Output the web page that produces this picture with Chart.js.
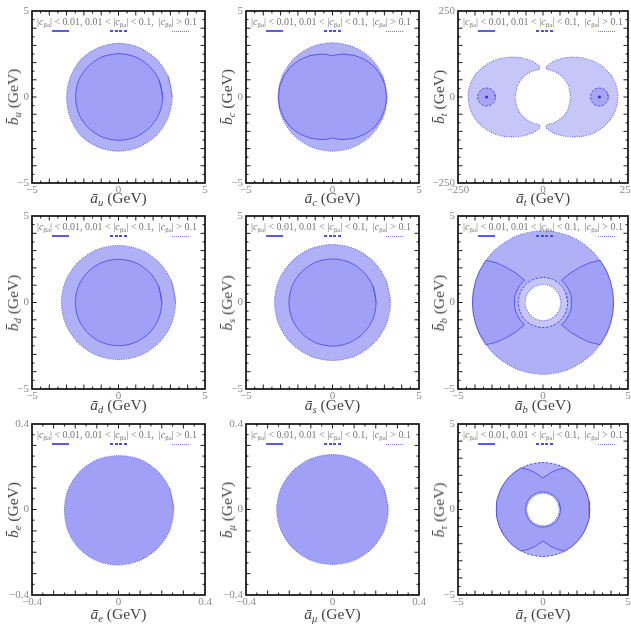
<!DOCTYPE html>
<html>
<head>
<meta charset="utf-8">
<script src="https://cdn.jsdelivr.net/npm/chart.js@4.4.1/dist/chart.umd.min.js"></script>
<style>
body { margin: 0; background: #fff; width: 631px; height: 624px; overflow: hidden; position: relative; font-family: 'Liberation Serif', serif; }
canvas { position: absolute; }
.xt, .yt { position: absolute; font-size: 15.5px; color: #444; white-space: nowrap; }
.xt { transform: translate(-50%, -50%); }
.yt { transform: translate(-50%, -50%) rotate(-90deg); }
sub { font-size: 0.68em; vertical-align: -0.3em; line-height: 0; }
.lg { position: absolute; font-size: 10px; color: #777; white-space: nowrap; line-height: 1; }
.smp { position: absolute; height: 2px; width: 17px; }
</style>
</head>
<body>
<script>
// axis ranges (GeV) and labelled ticks
var fermions = ["u", "c", "t", "d", "s", "b", "e", "μ", "τ"];
var axisLimit = [5, 5, 250, 5, 5, 5, 0.4, 0.4, 5];
var majorTick = [1, 1, 50, 1, 1, 1, 0.1, 0.1, 1];
var minorTick = [0.5, 0.5, 25, 0.5, 0.5, 0.5, 0.05, 0.05, 0.5];

// region outlines, [a, b] in GeV
var uOuter = [[3.1,0],[2.87,1.19],[2.2,2.19],[1.19,2.88],[0,3.12],[-1.18,2.86],[-2.17,2.18],[-2.78,1.16],[-3.0,0],[-2.8,-1.18],[-2.2,-2.22],[-1.2,-2.9],[0,-3.15],[1.2,-2.9],[2.22,-2.2],[2.87,-1.18],[3.1,0]];
var uInner = [[2.55,0],[2.35,0.97],[1.8,1.78],[0.98,2.33],[0.03,2.52],[-0.95,2.33],[-1.75,1.78],[-2.3,0.97],[-2.48,0],[-2.3,-0.97],[-1.75,-1.78],[-0.95,-2.33],[0.03,-2.52],[0.98,-2.33],[1.8,-1.78],[2.35,-0.97],[2.55,0]];

var cOuter = [[3.15,0],[2.91,1.21],[2.23,2.23],[1.21,2.91],[0,3.15],[-1.21,2.91],[-2.23,2.23],[-2.91,1.21],[-3.15,0],[-2.91,-1.21],[-2.23,-2.23],[-1.21,-2.91],[0,-3.15],[1.21,-2.91],[2.23,-2.23],[2.91,-1.21],[3.15,0]];
var cInner = [[3.12,0],[3.05,0.65],[2.8,1.25],[2.42,1.77],[1.9,2.16],[1.3,2.41],[0.65,2.5],[0.3,2.47],[0,2.4],[-0.3,2.47],[-0.65,2.5],[-1.3,2.41],[-1.9,2.16],[-2.42,1.77],[-2.8,1.25],[-3.05,0.65],[-3.12,0],[-3.05,-0.65],[-2.8,-1.25],[-2.42,-1.77],[-1.9,-2.15],[-1.3,-2.39],[-0.65,-2.48],[-0.3,-2.45],[0,-2.38],[0.3,-2.45],[0.65,-2.48],[1.3,-2.39],[1.9,-2.15],[2.42,-1.77],[2.8,-1.25],[3.05,-0.65],[3.12,0]];

var tLeft = [[-9,89],[-31,104],[-60,113],[-90,116],[-120,113],[-149,104],[-178,86],[-200,64],[-213,40],[-220,12],[-219,-15],[-212,-42],[-198,-66],[-176,-88],[-148,-105],[-118,-114],[-88,-116],[-58,-113],[-30,-104],[-9,-90],[-11,-81],[-35,-74],[-58,-58],[-74,-35],[-82,0],[-74,35],[-58,58],[-35,74],[-11,81],[-9,89]];
var tRight = [[9,88],[31,104],[60,113],[90,116],[120,113],[149,104],[178,86],[200,64],[213,40],[220,12],[219,-15],[212,-42],[198,-66],[176,-88],[149,-105],[118,-114],[88,-116],[58,-113],[30,-104],[9,-90],[11,-81],[35,-74],[58,-58],[74,-35],[81,0],[74,35],[58,58],[35,74],[11,81],[9,88]];
var tSpotL = [[-140,0],[-143.5,13],[-153,22.5],[-166,26],[-179,22.5],[-188.5,13],[-192,0],[-188.5,-13],[-179,-22.5],[-166,-26],[-153,-22.5],[-143.5,-13],[-140,0]];
var tSpotR = [[192,0],[188.5,13],[179,22.5],[166,26],[153,22.5],[143.5,13],[140,0],[143.5,-13],[153,-22.5],[166,-26],[179,-22.5],[188.5,-13],[192,0]];
var tCentres = [[-166,0],[166,0]];

var dOuter = [[3.3,0],[3.05,1.26],[2.33,2.33],[1.26,3.05],[0,3.3],[-1.26,3.05],[-2.33,2.33],[-3.05,1.26],[-3.3,0],[-3.05,-1.26],[-2.33,-2.33],[-1.26,-3.05],[0,-3.3],[1.26,-3.05],[2.33,-2.33],[3.05,-1.26],[3.3,0]];
var dInner = [[2.5,0],[2.31,0.96],[1.77,1.77],[0.96,2.31],[0,2.5],[-0.96,2.31],[-1.77,1.77],[-2.31,0.96],[-2.5,0],[-2.31,-0.96],[-1.77,-1.77],[-0.96,-2.31],[0,-2.5],[0.96,-2.31],[1.77,-1.77],[2.31,-0.96],[2.5,0]];

var sOuter = [[3.35,0],[3.1,1.28],[2.37,2.37],[1.28,3.1],[0,3.35],[-1.28,3.1],[-2.37,2.37],[-3.1,1.28],[-3.35,0],[-3.1,-1.28],[-2.37,-2.37],[-1.28,-3.1],[0,-3.35],[1.28,-3.1],[2.37,-2.37],[3.1,-1.28],[3.35,0]];
var sInner = [[2.52,0],[2.33,0.97],[1.78,1.78],[0.97,2.33],[0,2.52],[-0.97,2.33],[-1.78,1.78],[-2.33,0.97],[-2.52,0],[-2.33,-0.97],[-1.78,-1.78],[-0.97,-2.33],[0,-2.52],[0.97,-2.33],[1.78,-1.78],[2.33,-0.97],[2.52,0]];

var bOuter = [[4.15,0],[3.83,1.59],[2.93,2.93],[1.59,3.83],[0,4.15],[-1.59,3.83],[-2.93,2.93],[-3.83,1.59],[-4.15,0],[-3.83,-1.59],[-2.93,-2.93],[-1.59,-3.83],[0,-4.15],[1.59,-3.83],[2.93,-2.93],[3.83,-1.59],[4.15,0]];
var bRing = [[1.45,0],[1.34,0.55],[1.03,1.03],[0.55,1.34],[0,1.45],[-0.55,1.34],[-1.03,1.03],[-1.34,0.55],[-1.45,0],[-1.34,-0.55],[-1.03,-1.03],[-0.55,-1.34],[0,-1.45],[0.55,-1.34],[1.03,-1.03],[1.34,-0.55],[1.45,0]];
var bHole = [[1.05,0],[0.97,0.4],[0.74,0.74],[0.4,0.97],[0,1.05],[-0.4,0.97],[-0.74,0.74],[-0.97,0.4],[-1.05,0],[-0.97,-0.4],[-0.74,-0.74],[-0.4,-0.97],[0,-1.05],[0.4,-0.97],[0.74,-0.74],[0.97,-0.4],[1.05,0]];
var bLeft = [[-3.36,2.44],[-3.7,1.88],[-3.95,1.28],[-4.1,0.65],[-4.15,0],[-4.1,-0.65],[-3.95,-1.28],[-3.7,-1.88],[-3.36,-2.44],[-2.75,-2.3],[-2.15,-2.03],[-1.6,-1.7],[-1.09,-1.29],[-1.34,-1.03],[-1.53,-0.71],[-1.65,-0.37],[-1.69,0],[-1.65,0.37],[-1.53,0.71],[-1.34,1.03],[-1.09,1.29],[-1.6,1.7],[-2.15,2.03],[-2.75,2.3],[-3.36,2.44]];
var bRight = [[3.36,2.44],[3.7,1.88],[3.95,1.28],[4.1,0.65],[4.15,0],[4.1,-0.65],[3.95,-1.28],[3.7,-1.88],[3.36,-2.44],[2.75,-2.3],[2.15,-2.03],[1.6,-1.7],[1.09,-1.29],[1.34,-1.03],[1.53,-0.71],[1.65,-0.37],[1.69,0],[1.65,0.37],[1.53,0.71],[1.34,1.03],[1.09,1.29],[1.6,1.7],[2.15,2.03],[2.75,2.3],[3.36,2.44]];

var eRegion = [[0.255,0],[0.236,0.098],[0.18,0.18],[0.098,0.235],[0,0.252],[-0.097,0.234],[-0.178,0.178],[-0.232,0.096],[-0.25,0],[-0.234,-0.098],[-0.182,-0.182],[-0.1,-0.24],[0,-0.26],[0.1,-0.238],[0.182,-0.18],[0.236,-0.098],[0.255,0]];
var muRegion = [[0.258,0],[0.238,0.099],[0.182,0.182],[0.099,0.238],[0,0.257],[-0.099,0.238],[-0.182,0.182],[-0.238,0.099],[-0.258,0],[-0.238,-0.099],[-0.182,-0.182],[-0.099,-0.238],[0,-0.257],[0.099,-0.238],[0.182,-0.182],[0.238,-0.099],[0.258,0]];

var tauOuter = [[2.75,0],[2.54,1.05],[1.94,1.94],[1.05,2.54],[0,2.75],[-1.05,2.54],[-1.94,1.94],[-2.54,1.05],[-2.75,0],[-2.54,-1.05],[-1.94,-1.94],[-1.05,-2.54],[0,-2.75],[1.05,-2.54],[1.94,-1.94],[2.54,-1.05],[2.75,0]];
var tauBody = [[1.29,2.43],[1.73,2.14],[2.11,1.77],[2.38,1.38],[2.58,0.94],[2.71,0.48],[2.75,0],[2.71,-0.48],[2.58,-0.94],[2.38,-1.38],[2.11,-1.77],[1.73,-2.14],[1.29,-2.43],[0.85,-2.33],[0.45,-2.15],[0,-1.84],[-0.45,-2.15],[-0.85,-2.33],[-1.29,-2.43],[-1.73,-2.14],[-2.11,-1.77],[-2.38,-1.38],[-2.58,-0.94],[-2.71,-0.48],[-2.75,0],[-2.71,0.48],[-2.58,0.94],[-2.38,1.38],[-2.11,1.77],[-1.73,2.14],[-1.29,2.43],[-0.85,2.33],[-0.45,2.15],[0,1.84],[0.45,2.15],[0.85,2.33],[1.29,2.43]];
var tauRing = [[1.03,0],[0.95,0.39],[0.73,0.73],[0.39,0.95],[0,1.03],[-0.39,0.95],[-0.73,0.73],[-0.95,0.39],[-1.03,0],[-0.95,-0.39],[-0.73,-0.73],[-0.39,-0.95],[0,-1.03],[0.39,-0.95],[0.73,-0.73],[0.95,-0.39],[1.03,0]];
var tauHole = [[0.95,0],[0.88,0.36],[0.67,0.67],[0.36,0.88],[0,0.95],[-0.36,0.88],[-0.67,0.67],[-0.88,0.36],[-0.95,0],[-0.88,-0.36],[-0.67,-0.67],[-0.36,-0.88],[0,-0.95],[0.36,-0.88],[0.67,-0.67],[0.88,-0.36],[0.95,0]];

var LIGHT = "#c6c6f9", MID = "#b0b0f7", DARK = "#a0a0f7", SPOT = "#a6a6f3", HOLE = "#ffffff";
var SOLID = { c: "#4f4fee", d: [], w: 0.9 };
var DASH = { c: "#5050f0", d: [2.5, 1.5], w: 1 };
var DOT = { c: "#6b6bf2", d: [1, 1.3], w: 1.1 };

// [outline, fill colour, edge style, tension], back to front
var layers = [
    [[uOuter, MID, DOT, 0.3], [uInner, DARK, SOLID, 0.3]],
    [[cOuter, MID, DOT, 0.3], [cInner, DARK, SOLID, 0]],
    [[tLeft, LIGHT, DOT, 0.2], [tRight, LIGHT, DOT, 0.2], [tSpotL, SPOT, DASH, 0.4], [tSpotR, SPOT, DASH, 0.4]],
    [[dOuter, MID, DOT, 0.3], [dInner, DARK, SOLID, 0.3]],
    [[sOuter, MID, DOT, 0.3], [sInner, DARK, SOLID, 0.3]],
    [[bOuter, MID, DOT, 0.3], [bRing, LIGHT, DASH, 0.3], [bHole, HOLE, DOT, 0.3], [bLeft, DARK, SOLID, 0], [bRight, DARK, SOLID, 0]],
    [[eRegion, DARK, DOT, 0.3]],
    [[muRegion, DARK, DOT, 0.3]],
    [[tauOuter, MID, DASH, 0.3], [tauBody, DARK, SOLID, 0], [tauRing, LIGHT, SOLID, 0.3], [tauHole, HOLE, DOT, 0.3]]
];

var colLeft = [32, 246, 458], colWidth = [173, 173, 170];
var rowTop = [11, 216, 424], rowHeight = [172, 173, 171];
var xTitleY = [198, 405, 614];

var frame = {
    id: "frame",
    afterDatasetsDraw: function (chart, args, opts) {
        var ctx = chart.ctx, a = chart.chartArea;
        var sx = chart.scales.x, sy = chart.scales.y;
        var n = Math.round((sx.max - sx.min) / opts.minor);
        var every = Math.round(opts.major / opts.minor);
        ctx.save();
        ctx.strokeStyle = "#000";
        ctx.lineWidth = 0.9;
        ctx.beginPath();
        for (var k = 1; k < n; k++) {
            var len = k % every == 0 ? 4.5 : 2.5;
            var px = sx.getPixelForValue(sx.min + k * opts.minor);
            var py = sy.getPixelForValue(sy.min + k * opts.minor);
            ctx.moveTo(px, a.bottom); ctx.lineTo(px, a.bottom - len);
            ctx.moveTo(px, a.top); ctx.lineTo(px, a.top + len);
            ctx.moveTo(a.left, py); ctx.lineTo(a.left + len, py);
            ctx.moveTo(a.right, py); ctx.lineTo(a.right - len, py);
        }
        ctx.stroke();
        ctx.lineWidth = 1.6;
        ctx.strokeRect(a.left, a.top, a.right - a.left, a.bottom - a.top);
        ctx.restore();
    }
};

function axis(lim, isX) {
    return {
        type: "linear", min: -lim, max: lim,
        grid: { display: false, drawTicks: false, tickLength: 0 }, border: { display: false },
        ticks: {
            stepSize: lim, autoSkip: false, maxRotation: 0,
            color: "#8a8a8a", padding: isX ? 1 : 3,
            font: { family: "Liberation Serif", size: 11 },
            callback: function (v) { return (v < 0 ? "\u2212" : "") + Math.abs(v); }
        },
        afterFit: function (s) { if (isX) s.height = 14; else s.width = 32; }
    };
}

function addText(cls, html, left, top) {
    var el = document.createElement("div");
    el.className = cls;
    el.innerHTML = html;
    el.style.left = left + "px";
    el.style.top = top + "px";
    document.body.appendChild(el);
    return el;
}

var cBa = "|<i>c</i><sub>βa</sub>|";

for (var i = 0; i < 9; i++) {
    var col = i % 3, row = Math.floor(i / 3);
    var L = colLeft[col], T = rowTop[row], W = colWidth[col], H = rowHeight[row];

    var cv = document.createElement("canvas");
    var cw = 32 + W + 12, ch = 11 + H + 14;
    cv.width = cw; cv.height = ch;
    cv.style.width = cw + "px"; cv.style.height = ch + "px";
    cv.style.left = (L - 32) + "px"; cv.style.top = (T - 11) + "px";
    document.body.appendChild(cv);

    var datasets = layers[i].map(function (ly, j, all) {
        var st = ly[2];
        var pts = ly[0];
        // smooth loops run on past their start so the spline has no kink there
        if (ly[3] >= 0.3) pts = pts.concat([pts[1]]);
        return {
            data: pts.map(function (p) { return { x: p[0], y: p[1] }; }),
            showLine: true, fill: "shape", tension: ly[3],
            backgroundColor: ly[1], borderColor: st.c, borderDash: st.d, borderWidth: st.w,
            pointRadius: 0, order: all.length - j + 1
        };
    });
    if (i == 2) {
        datasets.push({
            data: tCentres.map(function (p) { return { x: p[0], y: p[1] }; }),
            pointRadius: 1.6, backgroundColor: "#3333d6", borderWidth: 0, order: 0
        });
    }

    new Chart(cv, {
        type: "scatter",
        data: { datasets: datasets },
        options: {
            responsive: false, animation: false, devicePixelRatio: 1,
            layout: { padding: { top: 11, right: 12, left: 0, bottom: 0 } },
            plugins: {
                legend: { display: false }, tooltip: { enabled: false },
                frame: { major: majorTick[i], minor: minorTick[i] }
            },
            scales: { x: axis(axisLimit[i], true), y: axis(axisLimit[i], false) }
        },
        plugins: [frame]
    });

    var q = "<i>" + fermions[i] + "</i>";
    addText("xt", "<i>ā</i><sub>" + q + "</sub> (GeV)", L + W / 2, xTitleY[row]);
    addText("yt", "<i>b̄</i><sub>" + q + "</sub> (GeV)", L - 19, T + H / 2);

    addText("lg", cBa + " &lt; 0.01, 0.01 &lt; " + cBa + " &lt; 0.1, &nbsp;" + cBa + " &gt; 0.1", L + 5, T + 6);
    var s1 = addText("smp", "", L + 20, T + 19);
    s1.style.background = "#5a5af0";
    var s2 = addText("smp", "", L + 78, T + 19);
    s2.style.background = "repeating-linear-gradient(90deg, #4a4af0 0 3px, transparent 3px 4.5px)";
    var s3 = addText("smp", "", L + 140, T + 19.5);
    s3.style.height = "1.5px";
    s3.style.background = "repeating-linear-gradient(90deg, #7c7cf2 0 1px, transparent 1px 2px)";
}
</script>
</body>
</html>
